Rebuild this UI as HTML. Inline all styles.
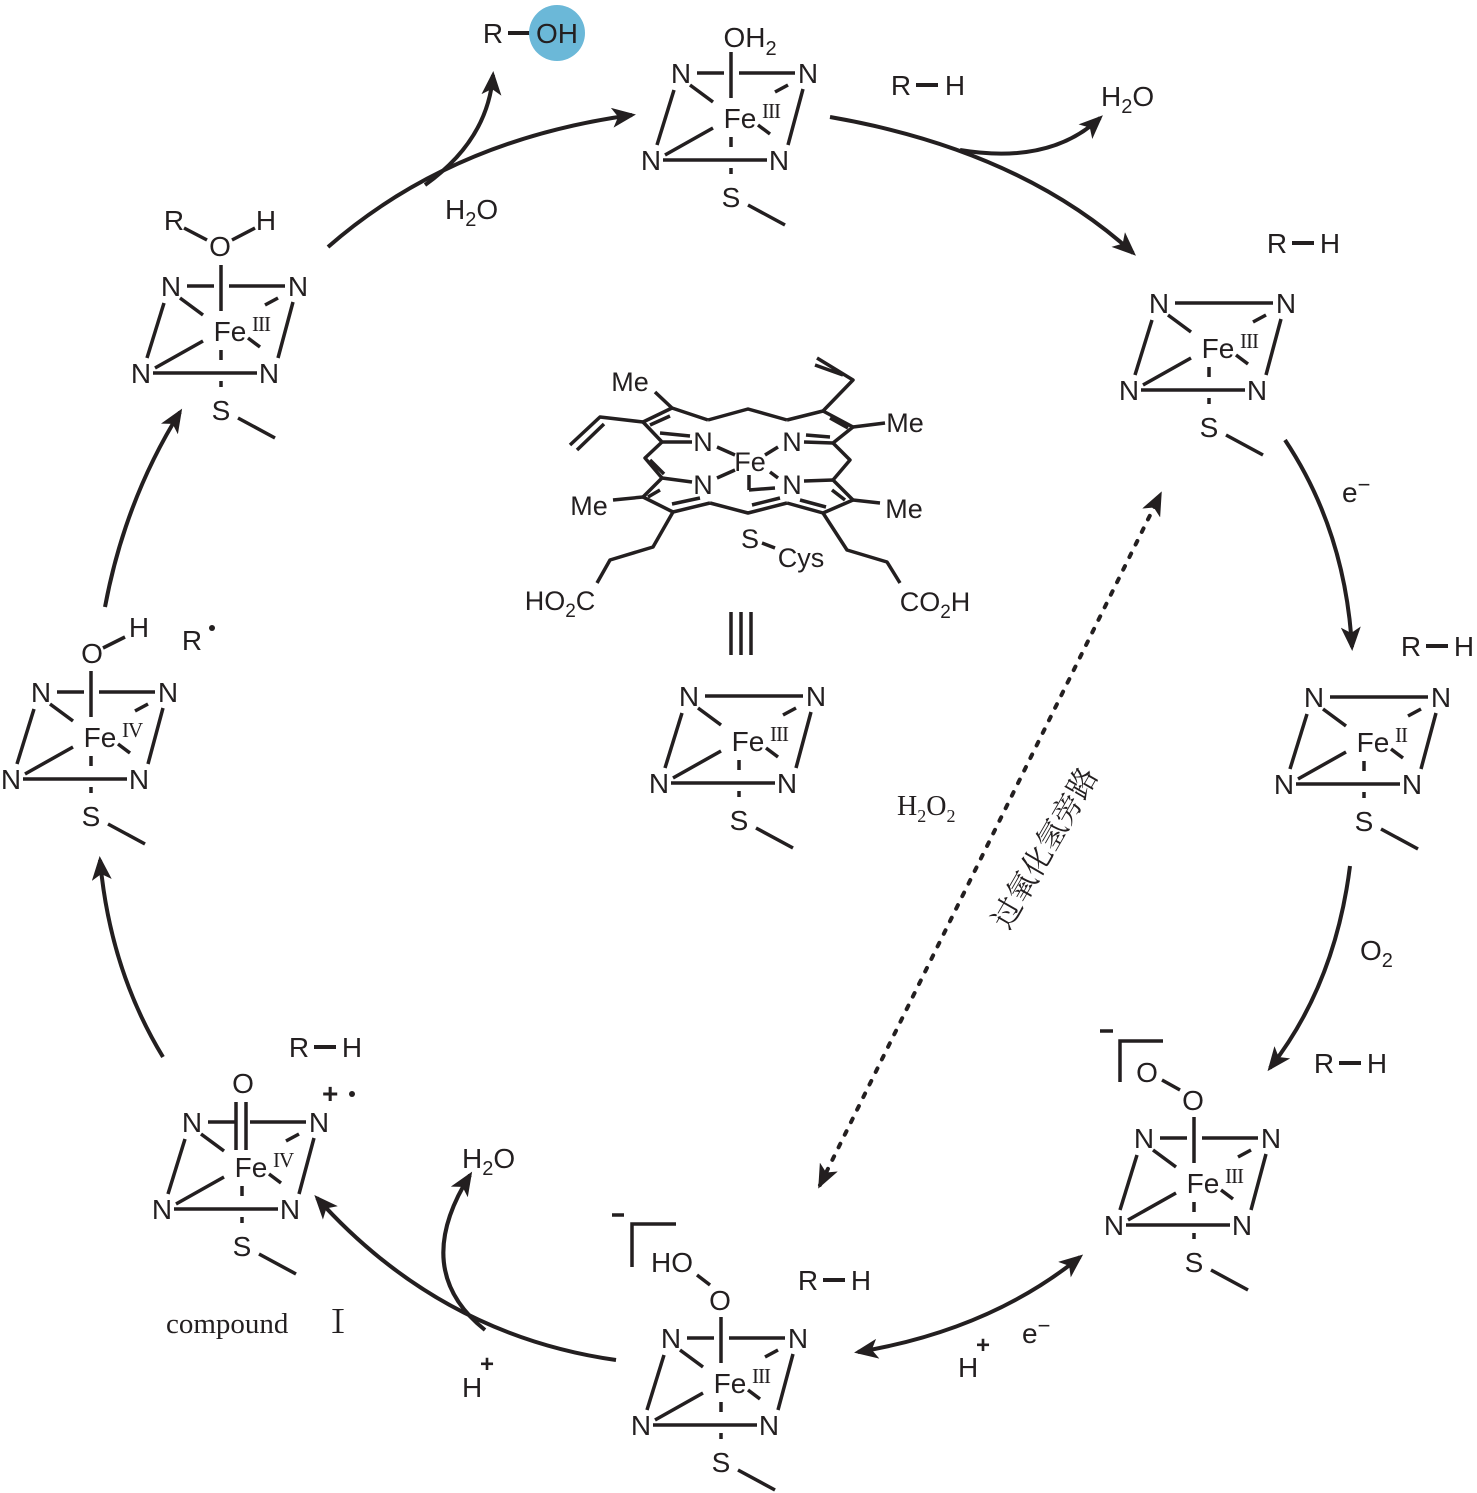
<!DOCTYPE html>
<html><head><meta charset="utf-8"><style>
html,body{margin:0;padding:0;background:#fff}
svg{display:block}
text{font-family:"Liberation Sans","Noto Sans CJK SC",sans-serif;fill:#231f20}
.n{font-size:28px;text-anchor:middle}
.r{font-family:"Liberation Serif",serif;font-size:21px;letter-spacing:-1px}
.s{font-family:"Liberation Serif","Noto Serif CJK SC",serif}
</style></head><body>
<svg width="1477" height="1493" viewBox="0 0 1477 1493" xmlns="http://www.w3.org/2000/svg">
<defs>
<marker id="ah" viewBox="0 0 24 20" refX="20" refY="10" markerWidth="24" markerHeight="20" markerUnits="userSpaceOnUse" orient="auto-start-reverse">
<path d="M0,0 L24,10 L0,20 L6,10 Z" fill="#231f20"/>
</marker>
<g id="fL" stroke="#231f20" stroke-width="3.5" fill="none">
<line x1="-43" y1="-45" x2="-16" y2="-45"/><line x1="-1" y1="-45" x2="55" y2="-45"/>
<line x1="-66" y1="-28" x2="-83" y2="27"/><line x1="63" y1="-29" x2="48" y2="27"/>
<line x1="-50" y1="-33" x2="-27" y2="-16"/><line x1="-75" y1="37" x2="-27" y2="10"/>
<line x1="18" y1="7" x2="30" y2="16"/><line x1="48" y1="-33" x2="35" y2="-26"/>
<line x1="-77" y1="42" x2="27" y2="42"/>
<line x1="-9" y1="19" x2="-9" y2="29"/><line x1="-9" y1="50" x2="-9" y2="56"/>
<line x1="8" y1="87" x2="45" y2="107"/>
</g>
<g id="fN" stroke="#231f20" stroke-width="3.5" fill="none">
<line x1="-43" y1="-45" x2="55" y2="-45"/>
<line x1="-66" y1="-28" x2="-83" y2="27"/><line x1="63" y1="-29" x2="48" y2="27"/>
<line x1="-50" y1="-33" x2="-27" y2="-16"/><line x1="-75" y1="37" x2="-27" y2="10"/>
<line x1="18" y1="7" x2="30" y2="16"/><line x1="48" y1="-33" x2="35" y2="-26"/>
<line x1="-77" y1="42" x2="27" y2="42"/>
<line x1="-9" y1="19" x2="-9" y2="29"/><line x1="-9" y1="50" x2="-9" y2="56"/>
<line x1="8" y1="87" x2="45" y2="107"/>
</g>
<g id="v"><line x1="-9" y1="-66" x2="-9" y2="-20" stroke="#231f20" stroke-width="3.5"/></g>
</defs>

<use href="#fL" x="740" y="118"/><use href="#v" x="740" y="118"/>
<use href="#fN" x="1218" y="348"/>
<use href="#fN" x="1373" y="742"/>
<use href="#fL" x="1203" y="1183"/><use href="#v" x="1203" y="1183"/>
<use href="#fL" x="730" y="1383"/><use href="#v" x="730" y="1383"/>
<use href="#fL" x="251" y="1167"/>
<line x1="236" y1="1102" x2="236" y2="1150" stroke="#231f20" stroke-width="3.5"/>
<line x1="246" y1="1102" x2="246" y2="1150" stroke="#231f20" stroke-width="3.5"/>
<use href="#fL" x="100" y="737"/><use href="#v" x="100" y="737"/>
<use href="#fL" x="230" y="331"/><use href="#v" x="230" y="331"/>
<use href="#fN" x="748" y="741"/>

<text class="n" x="681" y="83">N</text><text class="n" x="808" y="83">N</text><text class="n" x="651" y="170">N</text><text class="n" x="779" y="170">N</text><text class="n" x="740" y="128">Fe</text><text class="r" x="762" y="118">III</text><text class="n" x="731" y="207">S</text>
<text class="n" x="1159" y="313">N</text><text class="n" x="1286" y="313">N</text><text class="n" x="1129" y="400">N</text><text class="n" x="1257" y="400">N</text><text class="n" x="1218" y="358">Fe</text><text class="r" x="1240" y="348">III</text><text class="n" x="1209" y="437">S</text>
<text class="n" x="1314" y="707">N</text><text class="n" x="1441" y="707">N</text><text class="n" x="1284" y="794">N</text><text class="n" x="1412" y="794">N</text><text class="n" x="1373" y="752">Fe</text><text class="r" x="1395" y="742">II</text><text class="n" x="1364" y="831">S</text>
<text class="n" x="1144" y="1148">N</text><text class="n" x="1271" y="1148">N</text><text class="n" x="1114" y="1235">N</text><text class="n" x="1242" y="1235">N</text><text class="n" x="1203" y="1193">Fe</text><text class="r" x="1225" y="1183">III</text><text class="n" x="1194" y="1272">S</text>
<text class="n" x="671" y="1348">N</text><text class="n" x="798" y="1348">N</text><text class="n" x="641" y="1435">N</text><text class="n" x="769" y="1435">N</text><text class="n" x="730" y="1393">Fe</text><text class="r" x="752" y="1383">III</text><text class="n" x="721" y="1472">S</text>
<text class="n" x="192" y="1132">N</text><text class="n" x="319" y="1132">N</text><text class="n" x="162" y="1219">N</text><text class="n" x="290" y="1219">N</text><text class="n" x="251" y="1177">Fe</text><text class="r" x="273" y="1167">IV</text><text class="n" x="242" y="1256">S</text>
<text class="n" x="41" y="702">N</text><text class="n" x="168" y="702">N</text><text class="n" x="11" y="789">N</text><text class="n" x="139" y="789">N</text><text class="n" x="100" y="747">Fe</text><text class="r" x="122" y="737">IV</text><text class="n" x="91" y="826">S</text>
<text class="n" x="171" y="296">N</text><text class="n" x="298" y="296">N</text><text class="n" x="141" y="383">N</text><text class="n" x="269" y="383">N</text><text class="n" x="230" y="341">Fe</text><text class="r" x="252" y="331">III</text><text class="n" x="221" y="420">S</text>
<text class="n" x="689" y="706">N</text><text class="n" x="816" y="706">N</text><text class="n" x="659" y="793">N</text><text class="n" x="787" y="793">N</text><text class="n" x="748" y="751">Fe</text><text class="r" x="770" y="741">III</text><text class="n" x="739" y="830">S</text>

<text class="n" x="750" y="47">OH<tspan font-size="20" dy="8">2</tspan></text>
<text class="n" x="1193" y="1110">O</text><text class="n" x="1147" y="1082">O</text>
<g stroke="#231f20" stroke-width="3.5" fill="none">
<line x1="1162" y1="1080" x2="1180" y2="1090"/>
<path d="M1120,1082 V1041 H1163"/><line x1="1100" y1="1031" x2="1113" y2="1031"/>
<line x1="697" y1="1275" x2="710" y2="1285"/>
<path d="M632,1267 V1224 H676"/><line x1="612" y1="1215" x2="624" y2="1215"/>
<line x1="103" y1="648" x2="125" y2="637"/>
<line x1="184" y1="228" x2="207" y2="240"/><line x1="232" y1="240" x2="255" y2="228"/>
</g>
<text class="n" x="720" y="1310">O</text><text class="n" x="672" y="1272">HO</text>
<text class="n" x="243" y="1093">O</text>
<text x="322" y="1103" font-size="28" font-weight="bold">+</text><circle cx="352" cy="1094" r="3" fill="#231f20"/>
<text class="n" x="92" y="663">O</text><text class="n" x="139" y="637">H</text>
<text class="n" x="174" y="230">R</text><text class="n" x="220" y="256">O</text><text class="n" x="266" y="230">H</text>
<text class="n" x="192" y="650">R</text><circle cx="212" cy="628" r="3" fill="#231f20"/>

<g font-size="28" text-anchor="middle">
<text x="901" y="95">R</text><text x="955" y="95">H</text>
<text x="1277" y="253">R</text><text x="1330" y="253">H</text>
<text x="1411" y="656">R</text><text x="1464" y="656">H</text>
<text x="1324" y="1073">R</text><text x="1377" y="1073">H</text>
<text x="808" y="1290">R</text><text x="861" y="1290">H</text>
<text x="299" y="1057">R</text><text x="352" y="1057">H</text>
<text x="493" y="43">R</text>
</g>
<g stroke="#231f20" stroke-width="4">
<line x1="916" y1="85" x2="938" y2="85"/><line x1="1292" y1="243" x2="1314" y2="243"/>
<line x1="1426" y1="646" x2="1448" y2="646"/><line x1="1339" y1="1063" x2="1361" y2="1063"/>
<line x1="823" y1="1280" x2="845" y2="1280"/><line x1="314" y1="1047" x2="336" y2="1047"/>
<line x1="508" y1="33" x2="530" y2="33"/>
</g>
<circle cx="557" cy="33" r="28" fill="#6bb8d8"/>
<text class="n" x="557" y="43">OH</text>

<text x="1101" y="106" font-size="28">H<tspan font-size="20" dy="7">2</tspan><tspan dy="-7">O</tspan></text>
<text x="445" y="219" font-size="28">H<tspan font-size="20" dy="7">2</tspan><tspan dy="-7">O</tspan></text>
<text x="462" y="1168" font-size="28">H<tspan font-size="20" dy="7">2</tspan><tspan dy="-7">O</tspan></text>
<text x="1342" y="502" font-size="28">e<tspan dy="-10" font-size="22">−</tspan></text>
<text x="1360" y="960" font-size="28">O<tspan font-size="20" dy="7">2</tspan></text>
<text x="1022" y="1343" font-size="28">e<tspan dy="-10" font-size="22">−</tspan></text>
<text x="958" y="1377" font-size="28">H</text><text x="976" y="1353" font-size="24" font-weight="bold">+</text>
<text x="462" y="1397" font-size="28">H</text><text x="480" y="1372" font-size="24" font-weight="bold">+</text>
<text class="s" x="166" y="1333" font-size="29">compound</text><text class="s" x="322" y="1333" font-size="32">Ⅰ</text>
<text class="s" x="897" y="815" font-size="28">H<tspan font-size="18" dy="7">2</tspan><tspan dy="-7">O</tspan><tspan font-size="18" dy="7">2</tspan></text>
<text class="s" x="1045" y="858" font-size="30" text-anchor="middle" transform="rotate(-60 1045 848)">过氧化氢旁路</text>

<g stroke="#231f20" stroke-width="4" fill="none">
<path d="M328,247 Q450,140 632,115" marker-end="url(#ah)"/>
<path d="M425,185 Q488,140 493,75" marker-end="url(#ah)"/>
<path d="M830,117 Q1020,150 1133,253" marker-end="url(#ah)"/>
<path d="M960,150 Q1050,165 1100,118" marker-end="url(#ah)"/>
<path d="M1285,440 Q1345,530 1352,647" marker-end="url(#ah)"/>
<path d="M1350,866 Q1335,985 1270,1068" marker-end="url(#ah)"/>
<path d="M858,1352 Q990,1330 1080,1257" marker-start="url(#ah)" marker-end="url(#ah)"/>
<path d="M616,1360 Q440,1335 317,1198" marker-end="url(#ah)"/>
<path d="M485,1330 Q410,1270 470,1175" marker-end="url(#ah)"/>
<path d="M163,1057 Q110,970 100,860" marker-end="url(#ah)"/>
<path d="M105,607 Q125,500 180,412" marker-end="url(#ah)"/>
<path d="M820,1185 L1160,495" stroke-dasharray="4 10" stroke-linecap="round" marker-start="url(#ah)" marker-end="url(#ah)"/>
</g>

<g stroke="#231f20" stroke-width="3.5" fill="none" stroke-linejoin="round">
<path d="M708,420 L672,408 L643,422 L662,442 L692,442"/>
<path d="M670,416 L650,425 M660,433 L690,436"/>
<path d="M708,420 L748,409 L787,420"/>
<path d="M804,442 L833,443 L853,427 L823,411 L787,420"/>
<path d="M806,435 L830,437 M830,418 L848,428"/>
<path d="M672,408 L655,392"/>
<path d="M643,422 L600,417 L570,445 M604,424 L577,450"/>
<path d="M823,411 L853,380 L817,358 M843,375 L815,365"/>
<path d="M853,427 L885,423"/>
<path d="M662,442 L645,458 L662,478 M650,460 L664,474"/>
<path d="M833,443 L850,460 L833,480"/>
<path d="M692,482 L662,478 L643,497 L673,512 L710,503"/>
<path d="M660,490 L648,497 M672,504 L700,498"/>
<path d="M643,497 L613,500"/>
<path d="M710,503 L748,513 L787,503 M752,505 L780,498"/>
<path d="M804,481 L833,480 L853,500 L823,513 L787,503"/>
<path d="M832,490 L845,500 M826,507 L800,500"/>
<path d="M853,500 L880,503"/>
<path d="M673,512 L653,547 L610,560 L597,583"/>
<path d="M823,513 L847,550 L887,562 L900,583"/>
<path d="M717,447 L735,455 M717,478 L735,470 M778,447 L765,455 M778,478 L770,472"/>
<path d="M749,475 L749,490 M749,490 L775,488"/>
<path d="M762,543 L775,548"/>
<path d="M731,612 V655 M741,612 V655 M751,612 V655"/>
</g>
<g font-size="27" text-anchor="middle">
<text x="630" y="391">Me</text>
<text x="905" y="432">Me</text>
<text x="589" y="515">Me</text>
<text x="904" y="518">Me</text>
<text x="703" y="451">N</text><text x="792" y="451">N</text>
<text x="703" y="494">N</text><text x="792" y="494">N</text>
<text x="750" y="471">Fe</text>
<text x="750" y="548">S</text>
<text x="801" y="567">Cys</text>
<text x="560" y="610">HO<tspan font-size="19" dy="7">2</tspan><tspan dy="-7">C</tspan></text>
<text x="935" y="611">CO<tspan font-size="19" dy="7">2</tspan><tspan dy="-7">H</tspan></text>
</g>
</svg>
</body></html>
